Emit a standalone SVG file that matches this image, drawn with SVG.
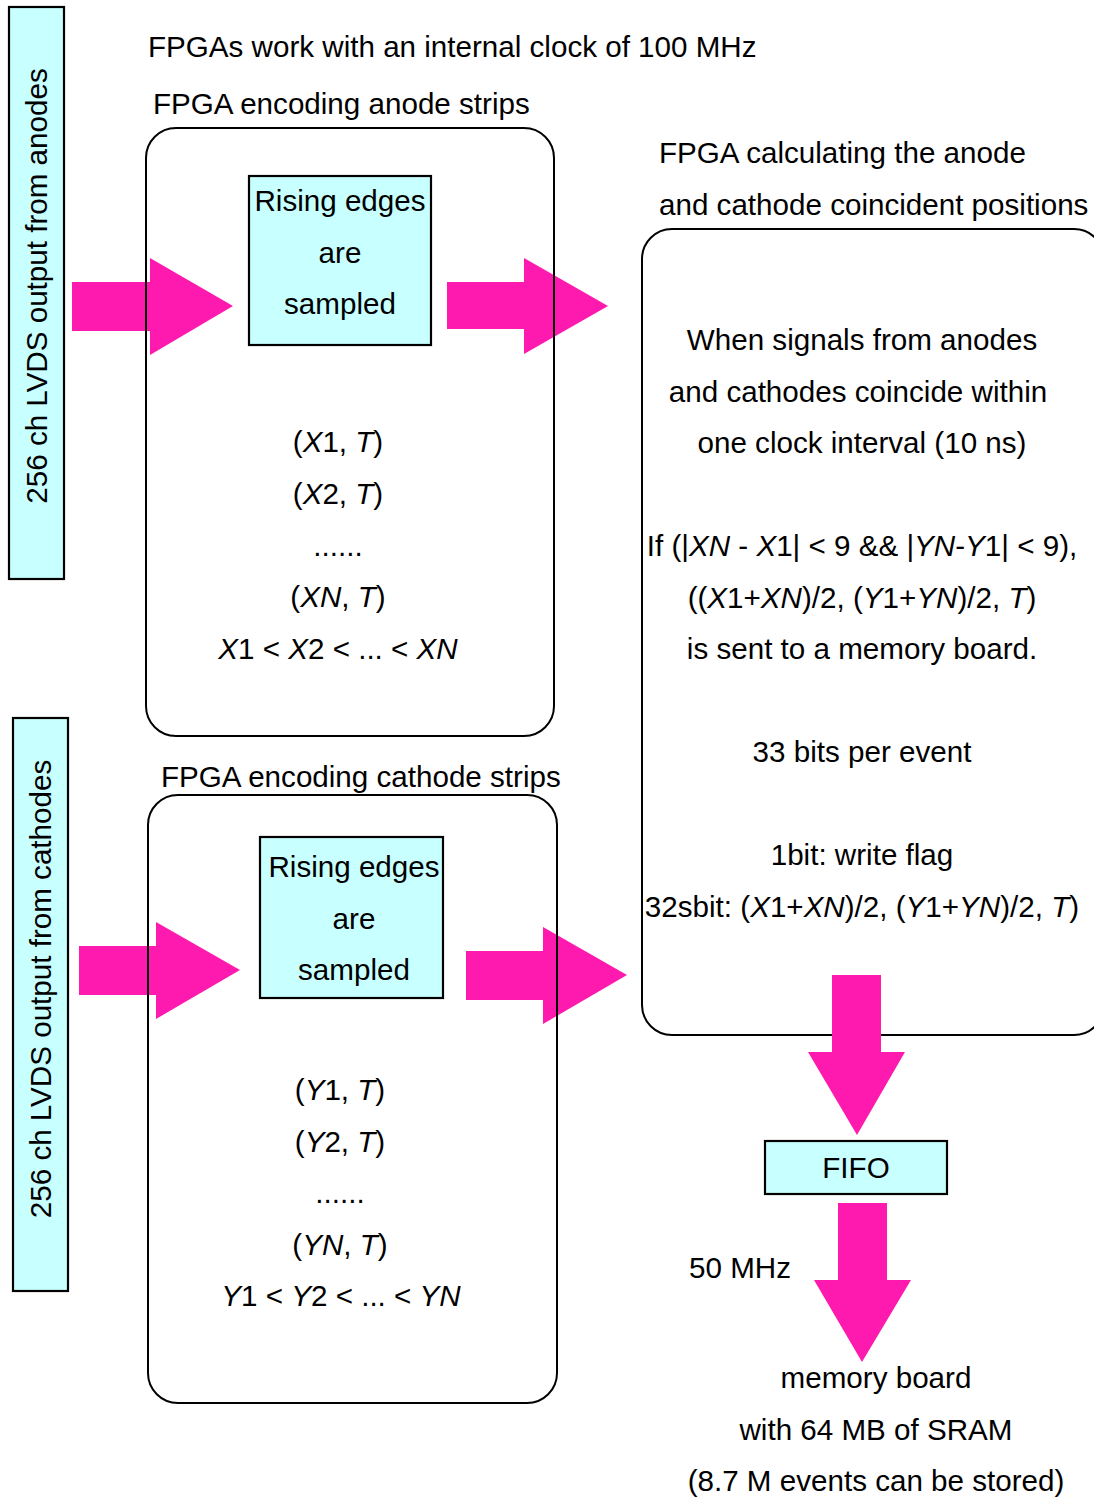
<svg xmlns="http://www.w3.org/2000/svg" width="1094" height="1498" viewBox="0 0 1094 1498">
<style>
text{font-family:"Liberation Sans",Arial,sans-serif;font-size:29.6px;fill:#000}
.m{text-anchor:middle}
.i{font-style:italic}
.frame{fill:none;stroke:#000;stroke-width:2}
.cy{fill:#C8FFFF;stroke:#000;stroke-width:2.2}
.arr{fill:#FF1AAF;stroke:none}
</style>
<rect width="1094" height="1498" fill="#fff"/>

<g id="connectors">
<polygon class="arr" points="72,282 150,282 150,258 233,306 150,355 150,331 72,331"/>
<polygon class="arr" points="447,282 524,282 524,258 608,306 524,354 524,329 447,329"/>
<polygon class="arr" points="79,946 156,946 156,922 240,970 156,1019 156,995 79,995"/>
<polygon class="arr" points="466,951 543,951 543,927 627,975 543,1024 543,1000 466,1000"/>
</g>

<g id="clock-note"><text x="148" y="57">FPGAs work with an internal clock of 100 MHz</text></g>

<g id="anode-input">
<rect class="cy" x="9" y="7" width="55" height="572"/>
<text class="m" transform="translate(47,286) rotate(-90)">256 ch LVDS output from anodes</text>
</g>

<g id="cathode-input">
<rect class="cy" x="13" y="718" width="55" height="573"/>
<text class="m" transform="translate(51,989) rotate(-90)">256 ch LVDS output from cathodes</text>
</g>

<g id="anode-fpga">
<text x="153" y="114">FPGA encoding anode strips</text>
<rect class="frame" x="146" y="128" width="408" height="608" rx="30"/>
<text class="m" x="338" y="452">(<tspan class="i">X</tspan>1, <tspan class="i">T</tspan>)</text>
<text class="m" x="338" y="504">(<tspan class="i">X</tspan>2, <tspan class="i">T</tspan>)</text>
<text class="m" x="338" y="556">......</text>
<text class="m" x="338" y="607">(<tspan class="i">XN</tspan>, <tspan class="i">T</tspan>)</text>
<text class="m" x="338" y="659"><tspan class="i">X</tspan>1 &lt; <tspan class="i">X</tspan>2 &lt; ... &lt; <tspan class="i">XN</tspan></text>
</g>

<g id="anode-sampler">
<rect class="cy" x="249" y="176" width="182" height="169"/>
<text class="m" x="340" y="211">Rising edges</text>
<text class="m" x="340" y="263">are</text>
<text class="m" x="340" y="314">sampled</text>
</g>

<g id="cathode-fpga">
<text x="161" y="787">FPGA encoding cathode strips</text>
<rect class="frame" x="148" y="795" width="409" height="608" rx="30"/>
<text class="m" x="340" y="1100">(<tspan class="i">Y</tspan>1, <tspan class="i">T</tspan>)</text>
<text class="m" x="340" y="1152">(<tspan class="i">Y</tspan>2, <tspan class="i">T</tspan>)</text>
<text class="m" x="340" y="1203">......</text>
<text class="m" x="340" y="1255">(<tspan class="i">YN</tspan>, <tspan class="i">T</tspan>)</text>
<text class="m" x="341" y="1306"><tspan class="i">Y</tspan>1 &lt; <tspan class="i">Y</tspan>2 &lt; ... &lt; <tspan class="i">YN</tspan></text>
</g>

<g id="cathode-sampler">
<rect class="cy" x="260" y="837" width="183" height="161"/>
<text class="m" x="354" y="877">Rising edges</text>
<text class="m" x="354" y="929">are</text>
<text class="m" x="354" y="980">sampled</text>
</g>

<g id="coincidence-fpga">
<text x="659" y="163">FPGA calculating the anode</text>
<text x="659" y="215">and cathode coincident positions</text>
<rect class="frame" x="642" y="229" width="462" height="806" rx="30"/>
<text class="m" x="862" y="350">When signals from anodes</text>
<text class="m" x="858" y="402">and cathodes coincide within</text>
<text class="m" x="862" y="453">one clock interval (10 ns)</text>
<text class="m" x="862" y="556">If (|<tspan class="i">XN</tspan> - <tspan class="i">X</tspan>1| &lt; 9 &amp;&amp; |<tspan class="i">YN</tspan>-<tspan class="i">Y</tspan>1| &lt; 9),</text>
<text class="m" x="862" y="608">((<tspan class="i">X</tspan>1+<tspan class="i">XN</tspan>)/2, (<tspan class="i">Y</tspan>1+<tspan class="i">YN</tspan>)/2, <tspan class="i">T</tspan>)</text>
<text class="m" x="862" y="659">is sent to a memory board.</text>
<text class="m" x="862" y="762">33 bits per event</text>
<text class="m" x="862" y="865">1bit: write flag</text>
<text class="m" x="862" y="917">32sbit: (<tspan class="i">X</tspan>1+<tspan class="i">XN</tspan>)/2, (<tspan class="i">Y</tspan>1+<tspan class="i">YN</tspan>)/2, <tspan class="i">T</tspan>)</text>
</g>

<g id="connectors-down">
<polygon class="arr" points="832,975 881,975 881,1052 905,1052 857,1135 808,1052 832,1052"/>
<polygon class="arr" points="838,1203 887,1203 887,1280 911,1280 862,1362 814,1280 838,1280"/>
</g>

<g id="fifo">
<rect class="cy" x="765" y="1141" width="182" height="53"/>
<text class="m" x="856" y="1178">FIFO</text>
</g>

<g id="rate-label"><text x="689" y="1278">50 MHz</text></g>

<g id="memory-board">
<text class="m" x="876" y="1388">memory board</text>
<text class="m" x="876" y="1440">with 64 MB of SRAM</text>
<text class="m" x="876" y="1491">(8.7 M events can be stored)</text>
</g>
</svg>
